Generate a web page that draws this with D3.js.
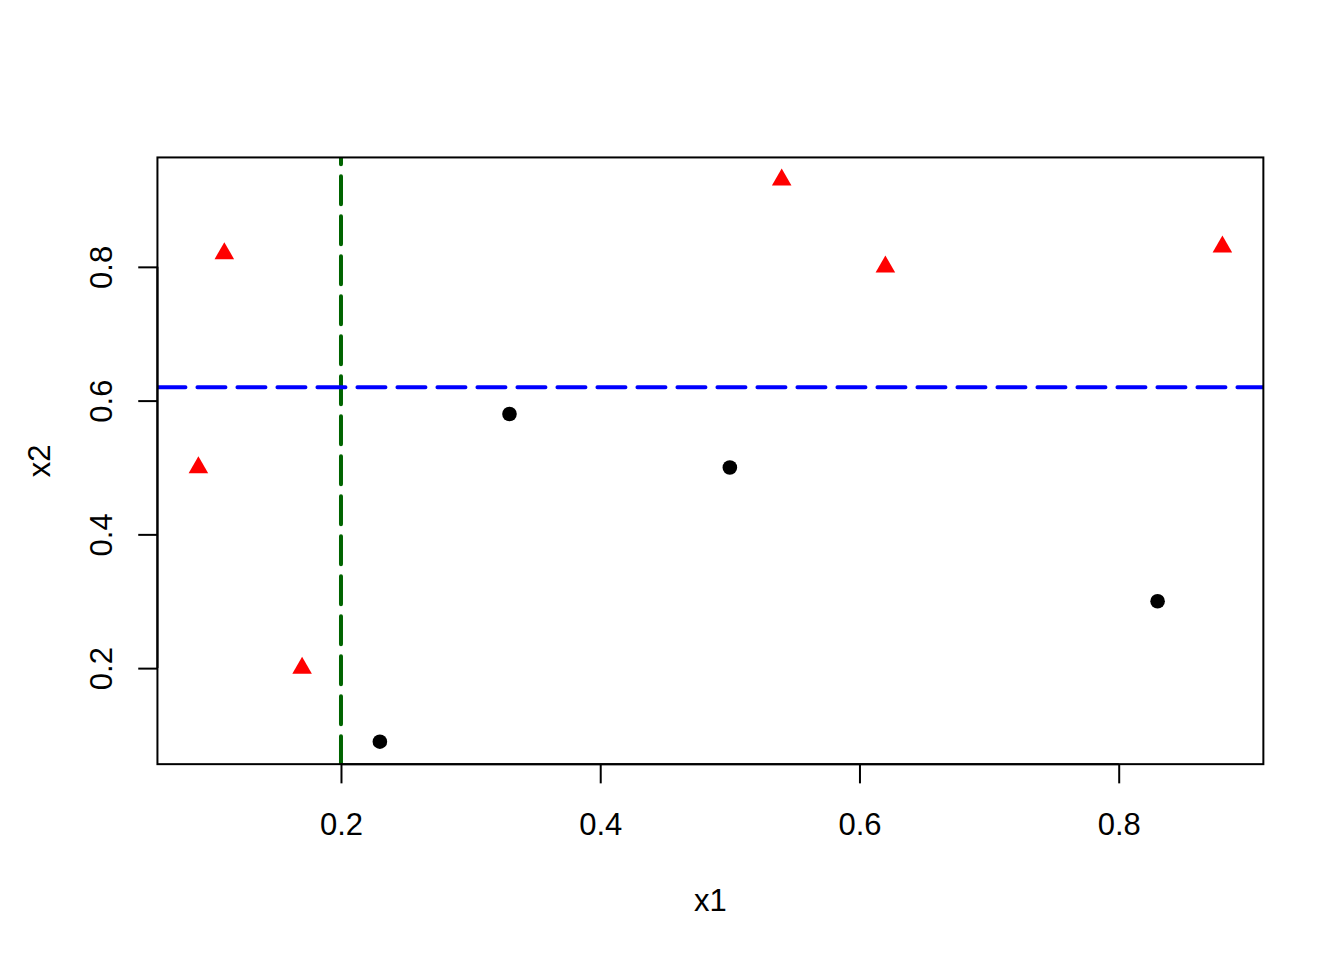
<!DOCTYPE html>
<html>
<head>
<meta charset="utf-8">
<script src="https://cdn.jsdelivr.net/npm/d3@7"></script>
<style>
  html, body { margin: 0; padding: 0; background: #fff; }
  text { font-family: "Liberation Sans", Arial, sans-serif; fill: #000; }
</style>
</head>
<body>
<svg id="chart" width="1344" height="960"></svg>
<script>
// Data
const circleX = [0.23, 0.33, 0.50, 0.83];
const circleY = [0.09, 0.58, 0.50, 0.30];
const triangleX = [0.09, 0.11, 0.17, 0.54, 0.62, 0.88];
const triangleY = [0.50, 0.82, 0.20, 0.93, 0.80, 0.83];
const xTicks = [0.2, 0.4, 0.6, 0.8];
const yTicks = [0.2, 0.4, 0.6, 0.8];
const vLineX = 0.2;
const hLineY = 0.62;
const xLabel = "x1";
const yLabel = "x2";

(function () {
const W = 1344, H = 960;
const lineH = 38.4;
const margin = {top: 4.1 * lineH, right: 2.1 * lineH, bottom: 5.1 * lineH, left: 4.1 * lineH};
const pLeft = margin.left, pRight = W - margin.right, pTop = margin.top, pBottom = H - margin.bottom;

const allX = circleX.concat(triangleX), allY = circleY.concat(triangleY);
const xmin = d3.min(allX), xmax = d3.max(allX);
const ymin = d3.min(allY), ymax = d3.max(allY);
const xpad = (xmax - xmin) * 0.04, ypad = (ymax - ymin) * 0.04;

const x = d3.scaleLinear().domain([xmin - xpad, xmax + xpad]).range([pLeft, pRight]);
const y = d3.scaleLinear().domain([ymin - ypad, ymax + ypad]).range([pBottom, pTop]);

const svg = d3.select("#chart");
const fs = 31;
const ff = "Liberation Sans, Arial, sans-serif";

svg.append("defs").append("clipPath").attr("id", "plotclip")
  .append("rect").attr("x", pLeft).attr("y", pTop).attr("width", pRight - pLeft).attr("height", pBottom - pTop);

const plot = svg.append("g").attr("clip-path", "url(#plotclip)");

// Reference lines
plot.append("line")
  .attr("x1", x(vLineX)).attr("x2", x(vLineX))
  .attr("y1", pBottom).attr("y2", pTop)
  .attr("stroke", "#006400").attr("stroke-width", 4)
  .attr("stroke-dasharray", "28,12").attr("stroke-linecap", "round");
plot.append("line")
  .attr("x1", pLeft).attr("x2", pRight)
  .attr("y1", y(hLineY)).attr("y2", y(hLineY))
  .attr("stroke", "#0000ff").attr("stroke-width", 4)
  .attr("stroke-dasharray", "28,12").attr("stroke-linecap", "round");

// Points
plot.selectAll("circle.pt").data(circleX.map((d, i) => [d, circleY[i]]))
  .enter().append("circle")
  .attr("cx", d => x(d[0])).attr("cy", d => y(d[1])).attr("r", 7.3)
  .attr("fill", "#000");

const r = 11.3;
plot.selectAll("path.tri").data(triangleX.map((d, i) => [d, triangleY[i]]))
  .enter().append("path")
  .attr("d", d => {
    const cx = x(d[0]), cy = y(d[1]);
    const hw = 0.866 * r;
    return `M${cx},${cy - r}L${cx + hw},${cy + r / 2}L${cx - hw},${cy + r / 2}Z`;
  })
  .attr("fill", "#ff0000");

// Box
svg.append("rect").attr("x", pLeft).attr("y", pTop).attr("width", pRight - pLeft).attr("height", pBottom - pTop)
  .attr("fill", "none").attr("stroke", "#000").attr("stroke-width", 2);

// X axis
const xAxis = d3.axisBottom(x).tickValues(xTicks).tickSize(19.2).tickPadding(0).tickFormat(d3.format(".1f"));
const gx = svg.append("g").attr("transform", `translate(0,${pBottom})`).call(xAxis);
gx.select(".domain").attr("d", `M${x(xTicks[0])},0H${x(xTicks[xTicks.length - 1])}`).attr("stroke-width", 2);
gx.selectAll(".tick line").attr("stroke-width", 2);
gx.selectAll(".tick text").attr("y", 71).attr("dy", null)
  .style("font-size", fs + "px").style("font-family", ff);

// Y axis
const yAxis = d3.axisLeft(y).tickValues(yTicks).tickSize(19.2).tickPadding(0).tickFormat(d3.format(".1f"));
const gy = svg.append("g").attr("transform", `translate(${pLeft},0)`).call(yAxis);
gy.select(".domain").attr("d", `M0,${y(yTicks[0])}V${y(yTicks[yTicks.length - 1])}`).attr("stroke-width", 2);
gy.selectAll(".tick line").attr("stroke-width", 2);
gy.selectAll(".tick text")
  .attr("x", null).attr("dy", null)
  .attr("text-anchor", "middle")
  .attr("transform", `translate(${112 - pLeft},0) rotate(-90)`)
  .style("font-size", fs + "px").style("font-family", ff);

// Axis labels
svg.append("text").attr("x", (pLeft + pRight) / 2).attr("y", 911)
  .attr("text-anchor", "middle").style("font-size", fs + "px").text(xLabel);
svg.append("text").attr("transform", `translate(50,${(pTop + pBottom) / 2}) rotate(-90)`)
  .attr("text-anchor", "middle").style("font-size", fs + "px").text(yLabel);
})();
</script>
</body>
</html>
